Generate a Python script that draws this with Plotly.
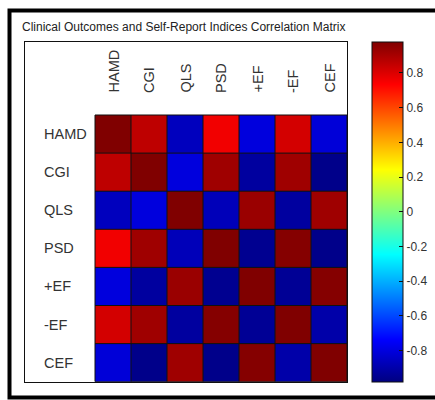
import plotly.graph_objects as go

# Measures in the correlation matrix (row/column order)
measures = ["HAMD", "CGI", "QLS", "PSD", "+EF", "-EF", "CEF"]

# Pairwise correlation coefficients, one list per row
r_hamd = [1.00, 0.86, -0.86, 0.76, -0.80, 0.82, -0.81]
r_cgi = [0.86, 1.00, -0.80, 0.92, -0.92, 0.92, -0.96]
r_qls = [-0.86, -0.80, 1.00, -0.87, 0.93, -0.92, 0.92]
r_psd = [0.76, 0.92, -0.87, 1.00, -0.95, 0.97, -0.96]
r_pef = [-0.80, -0.92, 0.93, -0.95, 1.00, -0.94, 0.97]
r_nef = [0.82, 0.92, -0.92, 0.97, -0.94, 1.00, -0.90]
r_cef = [-0.81, -0.96, 0.92, -0.96, 0.97, -0.90, 1.00]

corr = [r_hamd, r_cgi, r_qls, r_psd, r_pef, r_nef, r_cef]

# Colour bar ticks
cbar_ticks = [0.8, 0.6, 0.4, 0.2, 0.0, -0.2, -0.4, -0.6, -0.8]
cbar_labels = ["0.8", "0.6", "0.4", "0.2", "0", "-0.2", "-0.4", "-0.6", "-0.8"]

title_text = "Clinical Outcomes and Self-Report Indices Correlation Matrix"

W, H = 435, 400


def px_x(p):
    return p / W


def px_y(p):
    return 1 - p / H


# Classic "jet" colour map
jet = [
    [0.0, "rgb(0,0,128)"],
    [0.125, "rgb(0,0,255)"],
    [0.375, "rgb(0,255,255)"],
    [0.625, "rgb(255,255,0)"],
    [0.875, "rgb(255,0,0)"],
    [1.0, "rgb(128,0,0)"],
]

n = len(measures)
idx = list(range(n))

fig = go.Figure()
fig.add_trace(
    go.Heatmap(
        z=corr,
        x=idx,
        y=idx,
        colorscale=jet,
        zmin=-0.98,
        zmax=0.98,
        showscale=True,
        hovertemplate="%{customdata}<extra></extra>",
        customdata=[[f"{measures[i]} vs {measures[j]}: {corr[i][j]:.2f}" for j in idx] for i in idx],
        colorbar=dict(
            x=px_x(372),
            xanchor="left",
            y=px_y(211.7),
            yanchor="middle",
            len=(381.7 - 41.7) / H,
            lenmode="fraction",
            thickness=31,
            thicknessmode="pixels",
            xpad=0,
            ypad=0,
            outlinewidth=1,
            outlinecolor="#111111",
            tickvals=cbar_ticks,
            ticktext=cbar_labels,
            ticks="inside",
            ticklen=4,
            tickcolor="#111111",
            tickfont=dict(family="Liberation Sans, Arial, sans-serif", size=12, color="#333333"),
        ),
    )
)

# Cell grid lines
shapes = []
for k in range(n + 1):
    pos = k - 0.5
    shapes.append(dict(type="line", xref="x", yref="y", x0=pos, x1=pos, y0=-0.5, y1=n - 0.5,
                       line=dict(color="#111111", width=1), layer="above"))
    shapes.append(dict(type="line", xref="x", yref="y", x0=-0.5, x1=n - 0.5, y0=pos, y1=pos,
                       line=dict(color="#111111", width=1), layer="above"))

# Figure window frame
shapes.append(dict(type="rect", xref="paper", yref="paper",
                   x0=px_x(9.5), x1=px_x(445), y0=px_y(397.5), y1=px_y(10.5),
                   line=dict(color="black", width=4), fillcolor="rgba(0,0,0,0)", layer="above"))

label_font = dict(family="Liberation Sans, Arial, sans-serif", size=14.5, color="#333333")

annotations = []
# Row labels
for i, name in enumerate(measures):
    annotations.append(dict(text=name, xref="paper", yref="y", x=px_x(42), y=i,
                            xanchor="left", yanchor="middle", showarrow=False, font=label_font))
# Column labels, rotated
for j, name in enumerate(measures):
    annotations.append(dict(text=name, xref="x", yref="paper", x=j, y=px_y(95),
                            xanchor="center", yanchor="bottom", textangle=-90,
                            showarrow=False, font=label_font))
# Title
annotations.append(dict(text=title_text, xref="paper", yref="paper", x=px_x(20), y=px_y(27),
                        xanchor="left", yanchor="middle", showarrow=False,
                        font=dict(family="Liberation Sans, Arial, sans-serif", size=12, color="#222222")))

x_left = -0.5 - (95 - 25) / 36.0
y_top = -0.5 - (115 - 42.3) / 38.1

fig.update_layout(
    width=W,
    height=H,
    margin=dict(l=0, r=0, t=0, b=0),
    paper_bgcolor="white",
    plot_bgcolor="white",
    showlegend=False,
    shapes=shapes,
    annotations=annotations,
    xaxis=dict(domain=[px_x(25), px_x(347)], range=[x_left, n - 0.5],
               showticklabels=False, ticks="", showgrid=False, zeroline=False,
               showline=True, mirror=True, linecolor="#111111", linewidth=1),
    yaxis=dict(domain=[px_y(381.7), px_y(42.3)], range=[n - 0.5, y_top],
               showticklabels=False, ticks="", showgrid=False, zeroline=False,
               showline=True, mirror=True, linecolor="#111111", linewidth=1),
)

fig.write_html("out.html")
